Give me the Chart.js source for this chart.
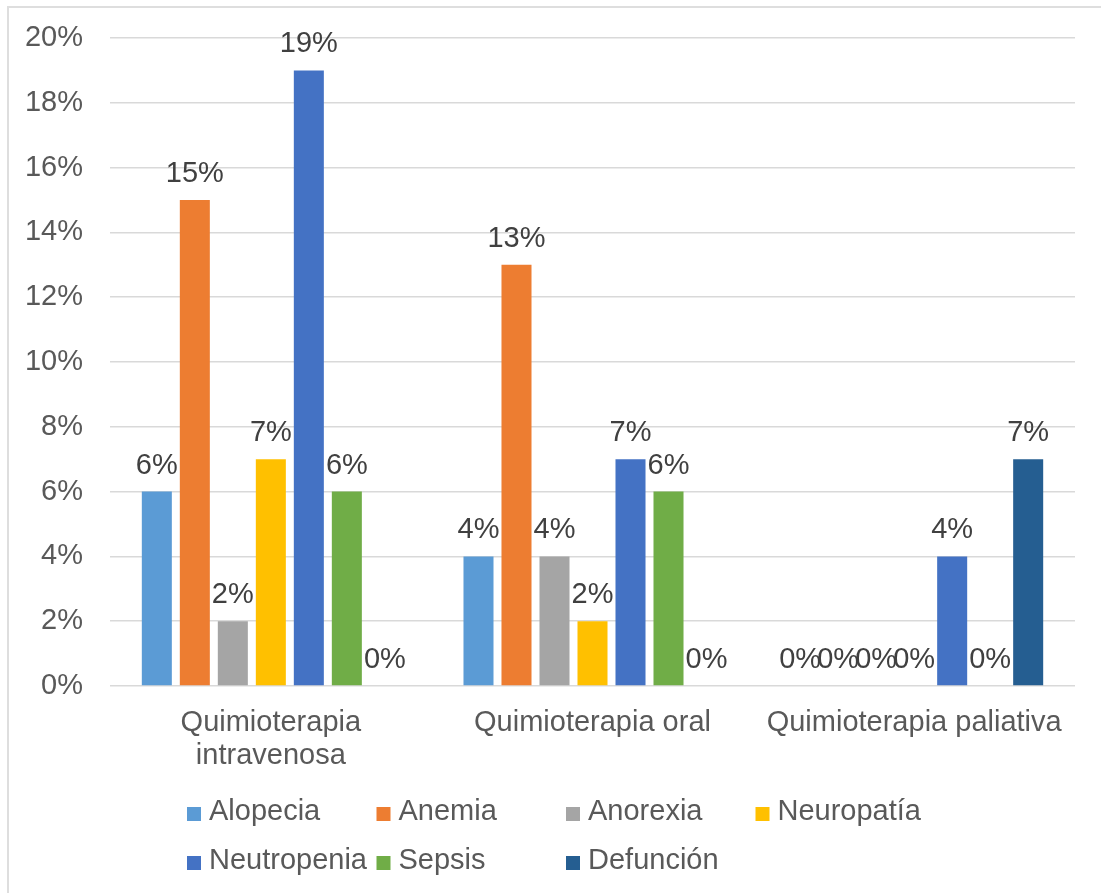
<!DOCTYPE html>
<html>
<head>
<meta charset="utf-8">
<script src="https://cdn.jsdelivr.net/npm/chart.js@4.4.0/dist/chart.umd.min.js"></script>
<style>
  html, body { margin: 0; padding: 0; background: #fff; }
  #marco {
    position: absolute; left: 7px; top: 6px;
    width: 1094px; height: 887px;
    border-left: 2px solid #dedede; border-top: 2px solid #dedede;
  }
</style>
</head>
<body>
<div id="marco"><canvas id="grafico" width="1092" height="885"></canvas></div>
<script>
// Datos: porcentaje de efectos adversos por tipo de quimioterapia
const categorias = [["Quimioterapia", "intravenosa"], "Quimioterapia oral", "Quimioterapia paliativa"];
const alopecia = [6, 4, 0];
const anemia = [15, 13, 0];
const anorexia = [2, 4, 0];
const neuropatia = [7, 2, 0];
const neutropenia = [19, 7, 4];
const sepsis = [6, 6, 0];
const defuncion = [0, 0, 7];
const ticksY = [0, 2, 4, 6, 8, 10, 12, 14, 16, 18, 20];

const FUENTE = "'Liberation Sans', Arial, sans-serif";
const GRIS_TEXTO = "#595959";

const series = [
  { label: "Alopecia", data: alopecia, color: "#5B9BD5" },
  { label: "Anemia", data: anemia, color: "#ED7D31" },
  { label: "Anorexia", data: anorexia, color: "#A5A5A5" },
  { label: "Neuropatía", data: neuropatia, color: "#FFC000" },
  { label: "Neutropenia", data: neutropenia, color: "#4472C4" },
  { label: "Sepsis", data: sepsis, color: "#70AD47" },
  { label: "Defunción", data: defuncion, color: "#255E91" },
];

// etiquetas de valor encima de cada barra
const etiquetasValor = {
  id: "etiquetasValor",
  afterDatasetsDraw(chart) {
    const ctx = chart.ctx;
    ctx.save();
    ctx.font = "29px " + FUENTE;
    ctx.fillStyle = "#404040";
    ctx.textAlign = "center";
    ctx.textBaseline = "alphabetic";
    chart.data.datasets.forEach((ds, i) => {
      const meta = chart.getDatasetMeta(i);
      meta.data.forEach((barra, j) => {
        ctx.fillText(ds.data[j] + "%", barra.x, barra.y - 18);
      });
    });
    ctx.restore();
  },
};

// leyenda en columnas fijas (4 por fila)
const leyenda = {
  id: "leyendaColumnas",
  afterDraw(chart) {
    const ctx = chart.ctx;
    const x0 = 178, paso = 189.5, filas = [804, 853];
    ctx.save();
    ctx.font = "29px " + FUENTE;
    ctx.textBaseline = "middle";
    ctx.textAlign = "left";
    chart.data.datasets.forEach((ds, i) => {
      const col = i % 4, fila = Math.floor(i / 4);
      const x = x0 + col * paso, y = filas[fila];
      ctx.fillStyle = ds.backgroundColor;
      ctx.fillRect(x, y - 5, 14, 14);
      ctx.fillStyle = GRIS_TEXTO;
      ctx.fillText(ds.label, x + 22, y);
    });
    ctx.restore();
  },
};

const config = {
  type: "bar",
  data: {
    labels: categorias,
    datasets: series.map((s) => ({
      label: s.label,
      data: s.data,
      backgroundColor: s.color,
      borderWidth: 0,
      categoryPercentage: 0.827,
      barPercentage: 0.79,
    })),
  },
  options: {
    responsive: false,
    animation: false,
    layout: { padding: { top: 30, right: 26, left: 0, bottom: 0 } },
    plugins: {
      legend: { display: false },
      tooltip: { enabled: false },
    },
    scales: {
      x: {
        grid: { display: false },
        border: { display: false },
        ticks: {
          color: GRIS_TEXTO,
          font: { family: FUENTE, size: 29, lineHeight: 1.15 },
          padding: 12,
          maxRotation: 0,
          autoSkip: false,
        },
        afterFit(scale) { scale.height = 207; },
      },
      y: {
        min: 0,
        max: 20,
        grid: { color: "#d9d9d9", lineWidth: 1.5, drawTicks: false },
        border: { display: false },
        afterBuildTicks(scale) { scale.ticks = ticksY.map((v) => ({ value: v })); },
        ticks: {
          color: GRIS_TEXTO,
          font: { family: FUENTE, size: 29 },
          padding: 27,
          callback: (v) => v + "%",
        },
        afterFit(scale) {
          scale.width = 101;
          scale.paddingTop = 0;
          scale.paddingBottom = 0;
        },
      },
    },
  },
  plugins: [etiquetasValor, leyenda],
};

new Chart(document.getElementById("grafico"), config);
</script>
</body>
</html>
